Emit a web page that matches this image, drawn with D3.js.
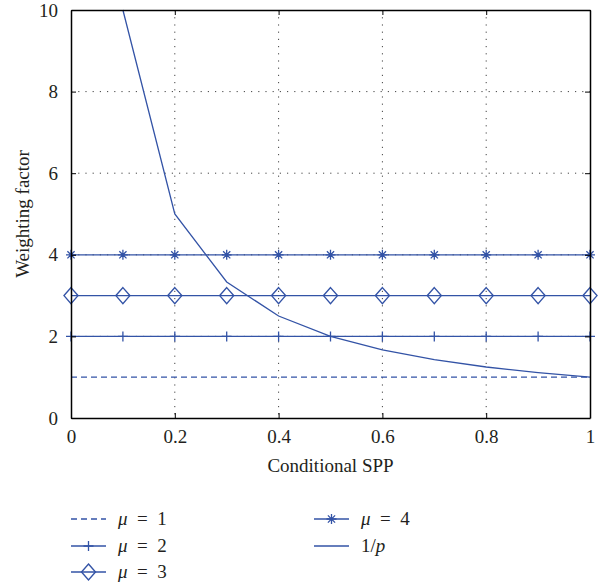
<!DOCTYPE html>
<html>
<head>
<meta charset="utf-8">
<script src="https://cdn.jsdelivr.net/npm/d3@7"></script>
<style>
  body { margin: 0; background: #fff; }
  text { font-family: "Liberation Serif", "DejaVu Serif", serif; fill: #231f20; }
</style>
</head>
<body>
<svg id="chart" width="599" height="585"></svg>
<script>
// data
var xs = [0, 0.1, 0.2, 0.3, 0.4, 0.5, 0.6, 0.7, 0.8, 0.9, 1];
var mu1 = [1, 1, 1, 1, 1, 1, 1, 1, 1, 1, 1];
var mu2 = [2, 2, 2, 2, 2, 2, 2, 2, 2, 2, 2];
var mu3 = [3, 3, 3, 3, 3, 3, 3, 3, 3, 3, 3];
var mu4 = [4, 4, 4, 4, 4, 4, 4, 4, 4, 4, 4];
var invX = [0.1, 0.2, 0.3, 0.4, 0.5, 0.6, 0.7, 0.8, 0.9, 1];
var invP = [10, 5, 3.333, 2.5, 2, 1.667, 1.429, 1.25, 1.111, 1];
var xTicks = [0, 0.2, 0.4, 0.6, 0.8, 1];
var yTicks = [0, 2, 4, 6, 8, 10];

var blue = "#3353a6";
var fontSize = "19px";
var pLeft = 71, pRight = 590, pTop = 10, pBottom = 418;

var svg = d3.select("#chart");

var x = d3.scaleLinear().domain([0, 1]).range([pLeft, pRight]);
var y = d3.scaleLinear().domain([0, 10]).range([pBottom, pTop]);

// grid (dotted)
var grid = svg.append("g");
grid.selectAll(".gx")
  .data(xTicks.slice(1, -1))
  .enter().append("line")
  .attr("x1", d => x(d)).attr("x2", d => x(d))
  .attr("y1", pTop).attr("y2", pBottom)
  .attr("stroke", "#444").attr("stroke-width", 1)
  .attr("stroke-dasharray", "1.2,6");
grid.selectAll(".gy")
  .data(yTicks.slice(1, -1))
  .enter().append("line")
  .attr("y1", d => y(d)).attr("y2", d => y(d))
  .attr("x1", pLeft).attr("x2", pRight)
  .attr("stroke", "#444").attr("stroke-width", 1)
  .attr("stroke-dasharray", "1.2,6");

// lines
var line = d3.line().x(d => x(d[0])).y(d => y(d[1]));

function series(vals, xv, dash) {
  svg.append("path")
    .datum(xv.map((d, i) => [d, vals[i]]))
    .attr("d", line)
    .attr("fill", "none")
    .attr("stroke", blue)
    .attr("stroke-width", 1.3)
    .attr("stroke-dasharray", dash || null);
}
series(mu1, xs, "6,4");
series(mu2, xs);
series(mu3, xs);
series(mu4, xs);
series(invP, invX);

// markers
function plusMark(g, cx, cy, s) {
  g.append("path").attr("d", "M" + (cx - s) + "," + cy + "H" + (cx + s) + "M" + cx + "," + (cy - s) + "V" + (cy + s))
    .attr("stroke", blue).attr("stroke-width", 1.3).attr("fill", "none");
}
function diamondMark(g, cx, cy) {
  g.append("path").attr("d", "M" + cx + "," + (cy - 8) + "L" + (cx + 7) + "," + cy + "L" + cx + "," + (cy + 8) + "L" + (cx - 7) + "," + cy + "Z")
    .attr("stroke", blue).attr("stroke-width", 1.4).attr("fill", "none");
}
function starMark(g, cx, cy) {
  var s = 5, d = 3.6;
  g.append("path").attr("d",
      "M" + (cx - s) + "," + cy + "H" + (cx + s) +
      "M" + cx + "," + (cy - s) + "V" + (cy + s) +
      "M" + (cx - d) + "," + (cy - d) + "L" + (cx + d) + "," + (cy + d) +
      "M" + (cx - d) + "," + (cy + d) + "L" + (cx + d) + "," + (cy - d))
    .attr("stroke", blue).attr("stroke-width", 1.3).attr("fill", "none");
}
var marks = svg.append("g");
xs.forEach(function(d, i){
  plusMark(marks, x(d), y(mu2[i]), 5);
  diamondMark(marks, x(d), y(mu3[i]));
  starMark(marks, x(d), y(mu4[i]));
});

// axes, ticks inward on all four sides
var xAxis = svg.append("g")
  .attr("transform", "translate(0," + pBottom + ")")
  .call(d3.axisBottom(x).tickValues(xTicks).tickSizeInner(-5).tickSizeOuter(0).tickPadding(12)
    .tickFormat(d3.format("")));
var yAxis = svg.append("g")
  .attr("transform", "translate(" + pLeft + ",0)")
  .call(d3.axisLeft(y).tickValues(yTicks).tickSizeInner(-5).tickSizeOuter(0).tickPadding(13));
var xTop = svg.append("g")
  .attr("transform", "translate(0," + pTop + ")")
  .call(d3.axisTop(x).tickValues(xTicks).tickSizeInner(-5).tickSizeOuter(0).tickFormat(""));
var yRight = svg.append("g")
  .attr("transform", "translate(" + pRight + ",0)")
  .call(d3.axisRight(y).tickValues(yTicks).tickSizeInner(-5).tickSizeOuter(0).tickFormat(""));

[xAxis, yAxis, xTop, yRight].forEach(function(g){
  g.select(".domain").attr("stroke", "#000").attr("stroke-width", 1.5);
  g.selectAll(".tick line").attr("stroke", "#000");
  g.selectAll("text").style("font-size", fontSize).attr("fill", "#231f20")
    .style("font-family", "'Liberation Serif', serif");
});

// axis labels
svg.append("text")
  .attr("x", (pLeft + pRight) / 2).attr("y", 472)
  .attr("text-anchor", "middle")
  .style("font-size", fontSize)
  .text("Conditional SPP");
svg.append("text")
  .attr("transform", "translate(29," + ((pTop + pBottom) / 2) + ") rotate(-90)")
  .attr("text-anchor", "middle")
  .style("font-size", fontSize)
  .text("Weighting factor");

// legend
var legendItems = [
  { label: "1", kind: "dash", col: 0, row: 0 },
  { label: "2", kind: "plus", col: 0, row: 1 },
  { label: "3", kind: "diamond", col: 0, row: 2 },
  { label: "4", kind: "star", col: 1, row: 0 },
  { label: "1/p", kind: "line", col: 1, row: 1 }
];
var legX = [71, 314], legY = [519, 546, 572];
var leg = svg.append("g");
legendItems.forEach(function(it){
  var lx = legX[it.col], ly = legY[it.row];
  leg.append("line")
    .attr("x1", lx).attr("x2", lx + 35).attr("y1", ly).attr("y2", ly)
    .attr("stroke", blue).attr("stroke-width", 1.3)
    .attr("stroke-dasharray", it.kind === "dash" ? "6,4" : null);
  var cx = lx + 17.5;
  if (it.kind === "plus") plusMark(leg, cx, ly, 5);
  if (it.kind === "diamond") diamondMark(leg, cx, ly);
  if (it.kind === "star") starMark(leg, cx, ly);
  var t = leg.append("text")
    .attr("x", lx + 47).attr("y", ly + 6)
    .style("font-size", fontSize);
  if (it.kind === "line") {
    t.text("1/");
    t.append("tspan").style("font-style", "italic").text("p");
  } else {
    t.append("tspan").style("font-style", "italic").text("\u03bc");
    t.append("tspan").text("\u2002=\u2002" + it.label);
  }
});
</script>
</body>
</html>
